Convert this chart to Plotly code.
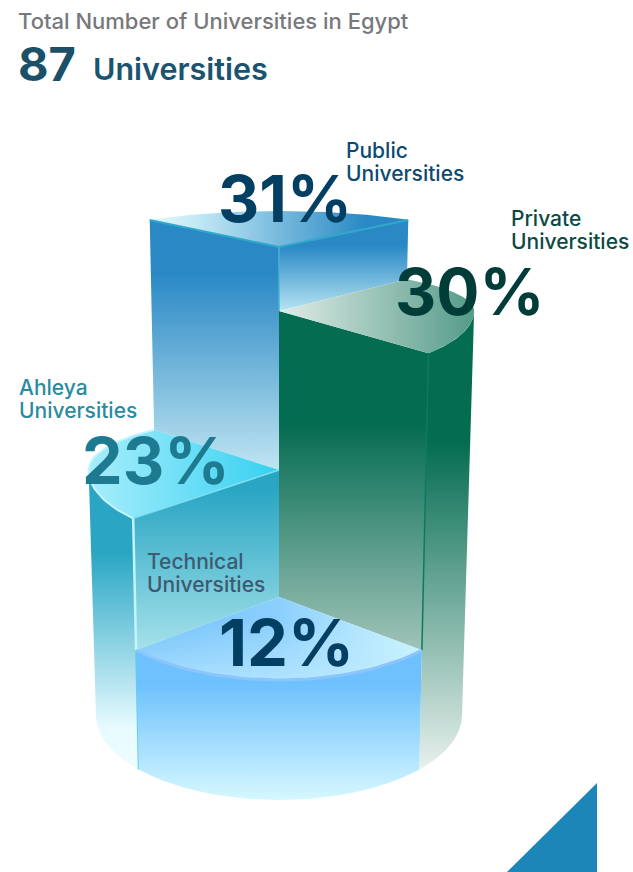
import numpy as np
import plotly.graph_objects as go

# Shares of Egyptian universities by type
categories = ["Public", "Private", "Ahleya", "Technical"]
shares = [31, 30, 23, 12]
total_universities = 87

CX, BASE_Y = 279, 715
FRONT, BACK = 50, 139  # sector boundaries in degrees, measured from the viewer


def elevation(v):
    # Pillar height grows faster than the share, which steepens the tall pillars
    return (118 + 11.545 * (v - 12) + 0.6205 * (v - 12) * (v - 23)
            + 0.239 * (v - 12) * (v - 23) * (v - 30))


def project(phi, h):
    # Ellipse flattens with height, and its far half is flatter than the near half
    phi = np.radians(phi)
    rx = 183 + 0.03 * h
    near = 85 if h == 0 else 90 - 0.06 * h
    far = 60 - 0.00011 * h * h
    c = np.cos(phi)
    ry = np.where(c >= 0, near, far)
    return CX + rx * np.sin(phi), BASE_Y - h + ry * c


def arc(a, b, h, n=40):
    x, y = project(np.linspace(a, b, n), h)
    return list(x), list(y)


def centre(h):
    return [CX], [BASE_Y - h]


def join(*parts):
    return sum((p[0] for p in parts), []), sum((p[1] for p in parts), [])


def corner(phi, h):
    x, y = project(phi, h)
    return [float(x)], [float(y)]


fig = go.Figure()


def face(points, kind, stops, start, stop):
    xs, ys = points
    fig.add_trace(go.Scatter(
        x=xs + xs[:1], y=ys + ys[:1], mode="lines", fill="toself", line=dict(width=0),
        fillgradient=dict(type=kind, colorscale=stops, start=start, stop=stop),
        hoverinfo="skip", showlegend=False))


def edge(points, color, width):
    fig.add_trace(go.Scatter(x=points[0], y=points[1], mode="lines",
                             line=dict(color=color, width=width),
                             hoverinfo="skip", showlegend=False))


pub, pri, ahl, tec = [elevation(v) for v in shares]

# Public pillar, rising at the back
face(join(corner(-BACK, pub), centre(pub), centre(ahl), corner(-BACK, ahl)), "vertical",
     [[0, "#2a89c5"], [0.2, "#2a89c5"], [1, "#c0e5f2"]], 225, 470)
face(join(centre(pub), corner(BACK, pub), corner(BACK, pri), centre(pri)), "vertical",
     [[0, "#2a89c5"], [0.15, "#2a89c5"], [1, "#b4e2f2"]], 235, 310)
face(join(centre(pub), arc(BACK, 221, pub)), "horizontal",
     [[0, "#e2f7fc"], [0.2, "#c6ebf6"], [1, "#2a89c5"]], 150, 365)
edge(join(corner(-BACK, pub), centre(pub), corner(BACK, pub)), "#2fa9cb", 2)
edge(join(centre(pub), centre(pri)), "#45b6d4", 1.5)

# Private pillar
face(join(centre(pri), corner(FRONT, pri), corner(FRONT, tec), centre(tec)), "vertical",
     [[0, "#046c51"], [0.33, "#046c51"], [1, "#a2c4ba"]], 311, 652)
face(join(arc(FRONT, 90, pri), arc(90, FRONT, 0)), "vertical",
     [[0, "#046c51"], [0.27, "#046c51"], [1, "#e8f0ed"]], 320, 770)
face(join(centre(pri), arc(FRONT, BACK, pri)), "horizontal",
     [[0, "#e2ece8"], [1, "#559c89"]], 279, 473)
edge(join(corner(FRONT, pri), corner(FRONT, tec)), "#0d7a5e", 1.5)

# Ahleya pillar
face(join(centre(ahl), corner(-FRONT, ahl), corner(-FRONT, tec), centre(tec)), "vertical",
     [[0, "#2aa6c4"], [1, "#a6e2ea"]], 490, 652)
face(join(arc(-90, -FRONT, ahl), arc(-FRONT, -90, 0)), "vertical",
     [[0, "#2aa6c4"], [0.25, "#2aa6c4"], [0.85, "#e6faff"], [1, "#eefcff"]], 480, 770)
face(join(centre(ahl), arc(-FRONT, -BACK, ahl)), "horizontal",
     [[0, "#a8eefc"], [1, "#36d0f1"]], 87, 279)
edge(arc(-FRONT, -BACK, ahl), "#c6f5fd", 2)
edge(join(corner(-FRONT, ahl), centre(ahl)), "#7fdff2", 1.5)
edge(join(corner(-FRONT, ahl), corner(-FRONT, tec)), "#c4f4fb", 2.5)
edge(join(corner(-FRONT, tec), corner(-FRONT, 0)), "#66cdf0", 2)

# Technical slice at the front
face(join(arc(-FRONT, FRONT, tec), arc(FRONT, -FRONT, 0)), "vertical",
     [[0, "#6ec1fc"], [0.2, "#6ec1fc"], [1, "#d6f8ff"]], 655, 800)
face(join(centre(tec), arc(-FRONT, FRONT, tec)), "horizontal",
     [[0, "#6fbffb"], [0.5, "#8ccffd"], [1, "#d0f6ff"]], 135, 422)
face(join(centre(tec), arc(-FRONT, FRONT, tec)), "vertical",
     [[0, "rgba(190,235,255,0)"], [1, "rgba(190,235,255,0.7)"]], 620, 680)
edge(arc(-FRONT, FRONT, tec), "#8cc4fe", 3)

labels = [
    (215.5, 198, f"{shares[0]}%", 64, "#023f63", 700),
    (393, 291, f"{shares[1]}%", 64, "#003c38", 700),
    (80, 461, f"{shares[2]}%", 64.5, "#1e7a90", 700),
    (217, 642, f"{shares[3]}%", 65, "#023f63", 700),
    (343.5, 150, categories[0], 21, "#0d4a70", 500),
    (343.5, 173, "Universities", 21, "#0d4a70", 500),
    (509, 218, categories[1], 21, "#0a4a44", 500),
    (509, 241, "Universities", 21, "#0a4a44", 500),
    (17, 387.5, categories[2], 21, "#2a8ba0", 500),
    (17, 410.5, "Universities", 21, "#2a8ba0", 500),
    (145, 561, categories[3], 21, "#3d5a70", 500),
    (145, 584, "Universities", 21, "#3d5a70", 500),
    (16, 21, "Total Number of Universities in Egypt", 22, "#77787b", 500),
    (16, 63, str(total_universities), 47, "#1a5068", 700),
    (91, 68, "Universities", 30.5, "#1b5470", 600),
]
annotations = [
    dict(x=x, y=y, text=t, showarrow=False, xanchor="left", yanchor="middle", align="left",
         xref="x", yref="y", font=dict(family="Inter", size=size, color=c, weight=w))
    for x, y, t, size, c, w in labels
]

fig.update_layout(
    width=633, height=872, margin=dict(l=0, r=0, t=0, b=0),
    paper_bgcolor="white", plot_bgcolor="white", showlegend=False,
    xaxis=dict(range=[0, 633], visible=False, fixedrange=True),
    yaxis=dict(range=[872, 0], visible=False, fixedrange=True),
    annotations=annotations,
    # Corner ornament at the foot of the page
    shapes=[dict(type="path", path="M597,783 L597,872 L507,872 Z", xref="x", yref="y",
                 fillcolor="#1c86b8", line=dict(width=0))],
)
fig.write_html("out.html", config={"displayModeBar": False})
